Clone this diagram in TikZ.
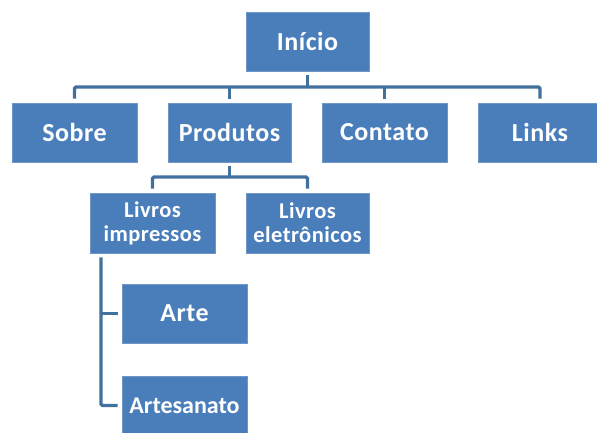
\documentclass[tikz,border=0pt]{standalone}
\usepackage{fontspec}
\setmainfont{Carlito}
\definecolor{boxfill}{HTML}{4A7EBB}
\definecolor{boxedge}{HTML}{6F96C8}
\definecolor{linecol}{HTML}{41719C}
\begin{document}
\begin{tikzpicture}[x=1pt,y=-1pt,
  box/.style={fill=boxfill,draw=boxedge,line width=0.6pt,text=white,
    font=\fontsize{26}{28}\selectfont\bfseries\addfontfeature{LetterSpace=2},align=center,inner sep=0pt,
    minimum height=59pt},
  subbox/.style={box,font=\fontsize{22.5}{24}\selectfont\bfseries\addfontfeature{LetterSpace=2},minimum height=60pt},
  smallbox/.style={box,font=\fontsize{24}{26}\selectfont\bfseries},
  conn/.style={draw=linecol,line width=3.4pt,rounded corners=1.5pt}]
\useasboundingbox (0,0) rectangle (597,432);
\node[box,minimum width=123pt] (ini) at (307.5,41.5) {Início};
\node[box,minimum width=125pt] (sobre) at (74.5,132.5) {Sobre};
\node[box,minimum width=123pt] (prod) at (229.5,132.5) {Produtos};
\node[box,minimum width=125pt] (cont) at (384.5,132.5) {Contato};
\node[box,minimum width=124pt] (links) at (540,132.5) {Links};
\node[subbox,minimum width=125pt] (limp) at (152.5,223) {Livros\\impressos};
\node[subbox,minimum width=123pt] (lele) at (307.5,223) {Livros\\eletrônicos};
\node[box,minimum width=125pt] (arte) at (184.5,313.5) {Arte};
\node[smallbox,minimum width=125pt] (artes) at (184.5,405.5) {Artesanato};
\coordinate (bus) at (0,87);
\coordinate (bus2) at (0,177);
\coordinate (vl) at (101,0);
\draw[conn] ([yshift=-4pt]ini.south) -- (ini.south |- bus);
\draw[conn] ([yshift=4pt]sobre.north) -- (sobre.north |- bus) -- (links.north |- bus) -- ([yshift=4pt]links.north);
\draw[conn] ([yshift=4pt]prod.north) -- (prod.north |- bus);
\draw[conn] ([yshift=4pt]cont.north) -- (cont.north |- bus);
\draw[conn] ([yshift=-4pt]prod.south) -- (prod.south |- bus2);
\draw[conn] ([yshift=4pt]limp.north) -- (limp.north |- bus2) -- (lele.north |- bus2) -- ([yshift=4pt]lele.north);
\draw[conn] ([yshift=-4pt]limp.south -| vl) -- (vl |- artes) -- ([xshift=-4pt]artes.west);
\draw[conn] (vl |- arte) -- ([xshift=-4pt]arte.west);
\end{tikzpicture}
\end{document}
